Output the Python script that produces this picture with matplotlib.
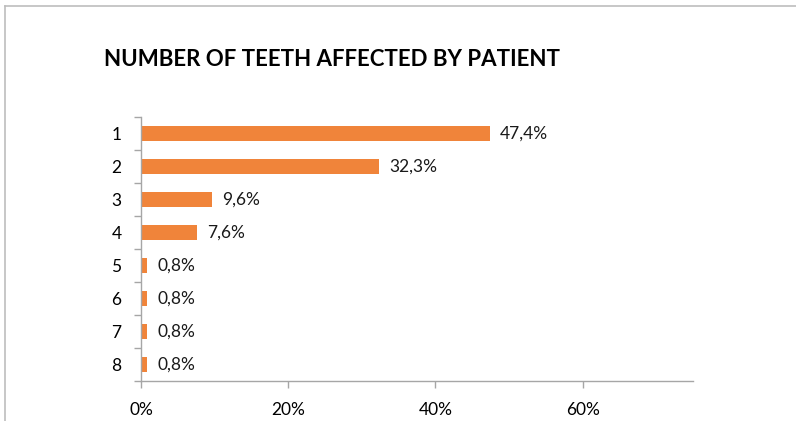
import matplotlib
matplotlib.use("Agg")
import matplotlib.pyplot as plt
from matplotlib.lines import Line2D

plt.rcParams['font.family'] = ['Lato', 'DejaVu Sans']

categories = ['1', '2', '3', '4', '5', '6', '7', '8']
percents = [47.4, 32.3, 9.6, 7.6, 0.8, 0.8, 0.8, 0.8]
xticks = [0, 20, 40, 60]
title = 'NUMBER OF TEETH AFFECTED BY PATIENT'

bar_color = '#F0843A'
axis_color = '#A6A6A6'

fig = plt.figure(figsize=(7.96, 4.21), dpi=100)
ax = fig.add_axes([141/796, 1 - 381/421, (693 - 141)/796, (381 - 117)/421])

ypos = list(range(len(categories)))
ax.barh(ypos, percents, height=0.47, color=bar_color)
ax.set_ylim(len(categories) - 0.5, -0.5)
ax.set_xlim(0, 75)

for y, v in zip(ypos, percents):
    ax.annotate(f"{v:.1f}%".replace('.', ','), (v, y), xytext=(7.5, 0),
                textcoords='offset points', va='center', ha='left',
                fontsize=12.5, color='#1a1a1a')

ax.set_yticks(ypos)
ax.set_yticklabels(categories, fontsize=12.5)
ax.set_yticks([y - 0.5 for y in range(len(categories) + 1)], minor=True)
ax.tick_params(axis='y', which='major', length=0, pad=14)
ax.tick_params(axis='y', which='minor', length=5, color=axis_color, width=1)

ax.set_xticks(xticks)
ax.set_xticklabels([f"{t}%" for t in xticks], fontsize=12.5)
ax.tick_params(axis='x', length=5, color=axis_color, width=1, pad=10)

for s in ['top', 'right']:
    ax.spines[s].set_visible(False)
for s in ['left', 'bottom']:
    ax.spines[s].set_color(axis_color)
    ax.spines[s].set_linewidth(1)

fig.text(104/796, 1 - 60/421, title, fontsize=16, fontweight='bold',
         va='center', ha='left', color='black')

# outer frame (top and left edges)
fig.add_artist(Line2D([5/796, 1], [1 - 6/421, 1 - 6/421], transform=fig.transFigure,
                      color='#BDBDBD', lw=1.2))
fig.add_artist(Line2D([5/796, 5/796], [0, 1 - 6/421], transform=fig.transFigure,
                      color='#BDBDBD', lw=1.2))

fig.savefig('out.png', dpi=100)
